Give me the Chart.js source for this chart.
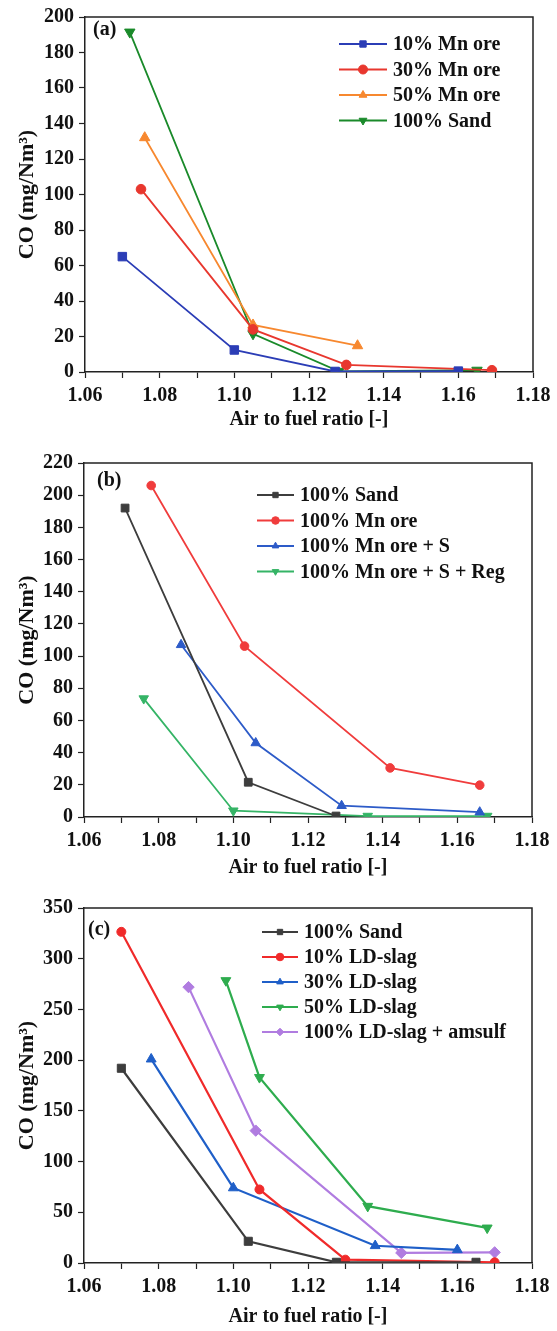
<!DOCTYPE html>
<html>
<head>
<meta charset="utf-8">
<script src="https://cdn.jsdelivr.net/npm/chart.js@4.4.1/dist/chart.umd.min.js"></script>
<style>
  body { margin: 0; background: #fff; width: 557px; height: 1331px; position: relative; overflow: hidden; }
  canvas { position: absolute; left: 0; }
</style>
</head>
<body>
<canvas id="chartA" width="557" height="440" style="top:0px"></canvas>
<canvas id="chartB" width="557" height="441" style="top:440px"></canvas>
<canvas id="chartC" width="557" height="450" style="top:881px"></canvas>
<script>
// ---- panel (a) ----
const aLabels = ['10% Mn ore', '30% Mn ore', '50% Mn ore', '100% Sand'];
const aX10 = [1.070, 1.100, 1.127, 1.160];
const aY10 = [65, 12.4, 0.3, 0.5];
const aX30 = [1.075, 1.105, 1.130, 1.169];
const aY30 = [103, 24, 4, 1];
const aX50 = [1.076, 1.105, 1.133];
const aY50 = [132, 26.5, 14.8];
const aXSand = [1.072, 1.105, 1.128, 1.165];
const aYSand = [191.5, 21.5, 0.4, 1];

// ---- panel (b) ----
const bLabels = ['100% Sand', '100% Mn ore', '100% Mn ore + S', '100% Mn ore + S + Reg'];
const bXSand = [1.071, 1.104, 1.1275];
const bYSand = [192, 21.6, 0.6];
const bXMn = [1.078, 1.103, 1.142, 1.166];
const bYMn = [206, 106.2, 30.5, 19.8];
const bXMnS = [1.086, 1.106, 1.129, 1.166];
const bYMnS = [107, 46, 7, 3];
const bXMnSReg = [1.076, 1.100, 1.136, 1.168];
const bYMnSReg = [73.6, 3.9, 0.6, 0.6];

// ---- panel (c) ----
const cLabels = ['100% Sand', '10% LD-slag', '30% LD-slag', '50% LD-slag', '100% LD-slag + amsulf'];
const cXSand = [1.070, 1.104, 1.1276, 1.165];
const cYSand = [192, 21.4, 0.7, 0.7];
const cX10 = [1.070, 1.107, 1.130, 1.170];
const cY10 = [326.5, 72.5, 3.3, 0.7];
const cX30 = [1.078, 1.100, 1.138, 1.160];
const cY30 = [201, 74, 17, 13];
const cX50 = [1.098, 1.107, 1.136, 1.168];
const cY50 = [278.5, 183, 56, 34.6];
const cX100 = [1.088, 1.106, 1.145, 1.170];
const cY100 = [272, 130.5, 10, 10.5];

const serif = '"Liberation Serif", "Times New Roman", serif';

function pts(xs, ys) {
  return xs.map((x, i) => ({ x: x, y: ys[i] }));
}

// box frame, panel tag and a legend with line + marker samples
const framePlugin = {
  id: 'frame',
  afterDraw(chart, args, o) {
    const ctx = chart.ctx;
    const a = chart.chartArea;
    ctx.save();
    ctx.strokeStyle = '#222';
    ctx.lineWidth = 1.5;
    ctx.beginPath();
    ctx.moveTo(a.left, a.top);
    ctx.lineTo(a.right, a.top);
    ctx.lineTo(a.right, a.bottom);
    ctx.stroke();

    ctx.fillStyle = '#111';
    ctx.font = 'bold 20px ' + serif;
    ctx.textBaseline = 'middle';
    ctx.fillText(o.tag, o.tagX, o.tagY);

    ctx.font = 'bold 20px ' + serif;
    chart.data.datasets.forEach((ds, i) => {
      const y = o.legY + i * o.legStep;
      ctx.strokeStyle = ds.borderColor;
      ctx.lineWidth = 2;
      ctx.beginPath();
      ctx.moveTo(o.legX, y);
      ctx.lineTo(o.legX + o.legLen, y);
      ctx.stroke();
      ctx.fillStyle = ds.borderColor;
      ctx.lineWidth = 1;
      Chart.helpers.drawPoint(ctx, {
        pointStyle: ds.pointStyle, rotation: ds.pointRotation,
        radius: o.legR, borderWidth: 1
      }, o.legX + o.legLen / 2, y);
      ctx.fillStyle = '#111';
      ctx.fillText(ds.label, o.legX + o.legLen + 6, y + 1);
    });
    ctx.restore();
  }
};

function makePanel(id, p) {
  const datasets = p.series.map(s => ({
    label: s.label,
    data: s.data,
    borderColor: s.color,
    backgroundColor: s.color,
    pointStyle: s.marker,
    pointRotation: s.rot || 0,
    pointRadius: s.marker === 'circle' ? p.mr : p.mr + 1.2,
    pointBorderWidth: 1,
    borderWidth: p.lw,
    tension: 0
  }));
  const tickFont = { family: serif, size: 20, weight: 'bold' };
  const titleFont = { family: serif, size: 20, weight: 'bold' };
  return new Chart(document.getElementById(id), {
    type: 'line',
    data: { datasets: datasets },
    plugins: [framePlugin],
    options: {
      responsive: false,
      animation: false,
      devicePixelRatio: 1,
      layout: { padding: { top: p.padTop, right: p.padRight, left: 0, bottom: 0 } },
      plugins: {
        legend: { display: false },
        tooltip: { enabled: false },
        frame: p.frame
      },
      scales: {
        x: {
          type: 'linear', min: 1.06, max: 1.18,
          ticks: {
            stepSize: 0.01, autoSkip: false, maxRotation: 0, padding: 6,
            color: '#111', font: tickFont,
            callback: v => Math.round(v * 100) % 2 === 0 ? v.toFixed(2) : ''
          },
          grid: { drawOnChartArea: false, tickLength: 6, tickColor: '#222', tickWidth: 1.2 },
          border: { color: '#222', width: 1.5 },
          title: {
            display: true, text: 'Air to fuel ratio [-]', color: '#111', font: titleFont,
            padding: { top: 0, bottom: p.titlePB }
          },
          afterFit: s => { s.height = p.xH; }
        },
        y: {
          type: 'linear', min: 0, max: p.yMax,
          ticks: {
            stepSize: p.yMinor, padding: 5, color: '#111', font: tickFont,
            callback: v => v % p.yMajor === 0 ? v : ''
          },
          grid: { drawOnChartArea: false, tickLength: 6, tickColor: '#222', tickWidth: 1.2 },
          border: { color: '#222', width: 1.5 },
          title: {
            display: true, text: 'CO (mg/Nm\u00B3)', color: '#111',
            font: { family: serif, size: 22, weight: 'bold' },
            padding: { top: 14, bottom: 0 }
          },
          afterFit: s => { s.width = p.yW; }
        }
      }
    }
  });
}

makePanel('chartA', {
  padTop: 13, padRight: 24, xH: 68, titlePB: 8, yW: 85,
  yMax: 200, yMinor: 10, yMajor: 20, lw: 1.8, mr: 4.8,
  frame: { tag: '(a)', tagX: 93, tagY: 30, legX: 339, legY: 44, legStep: 25.5, legLen: 48, legR: 4.5 },
  series: [
    { label: aLabels[0], data: pts(aX10, aY10), color: '#2b3db6', marker: 'rect' },
    { label: aLabels[1], data: pts(aX30, aY30), color: '#e8372e', marker: 'circle' },
    { label: aLabels[2], data: pts(aX50, aY50), color: '#f7882f', marker: 'triangle' },
    { label: aLabels[3], data: pts(aXSand, aYSand), color: '#1a8a2a', marker: 'triangle', rot: 180 }
  ]
});

makePanel('chartB', {
  padTop: 23, padRight: 25, xH: 64, titlePB: 1, yW: 84,
  yMax: 220, yMinor: 10, yMajor: 20, lw: 1.8, mr: 4.3,
  frame: { tag: '(b)', tagX: 97, tagY: 41, legX: 257, legY: 55, legStep: 25.5, legLen: 37, legR: 3.8 },
  series: [
    { label: bLabels[0], data: pts(bXSand, bYSand), color: '#3d3d3d', marker: 'rect' },
    { label: bLabels[1], data: pts(bXMn, bYMn), color: '#f03c3c', marker: 'circle' },
    { label: bLabels[2], data: pts(bXMnS, bYMnS), color: '#2d5bc8', marker: 'triangle' },
    { label: bLabels[3], data: pts(bXMnSReg, bYMnSReg), color: '#35b466', marker: 'triangle', rot: 180 }
  ]
});

makePanel('chartC', {
  padTop: 27, padRight: 25, xH: 68, titlePB: 2, yW: 84,
  yMax: 350, yMinor: 25, yMajor: 50, lw: 2.2, mr: 4.5,
  frame: { tag: '(c)', tagX: 88, tagY: 49, legX: 262, legY: 51, legStep: 25, legLen: 36, legR: 3.8 },
  series: [
    { label: cLabels[0], data: pts(cXSand, cYSand), color: '#3d3d3d', marker: 'rect' },
    { label: cLabels[1], data: pts(cX10, cY10), color: '#f02a2a', marker: 'circle' },
    { label: cLabels[2], data: pts(cX30, cY30), color: '#1f5fc8', marker: 'triangle' },
    { label: cLabels[3], data: pts(cX50, cY50), color: '#2eac4e', marker: 'triangle', rot: 180 },
    { label: cLabels[4], data: pts(cX100, cY100), color: '#b07ce0', marker: 'rectRot' }
  ]
});
</script>
</body>
</html>
